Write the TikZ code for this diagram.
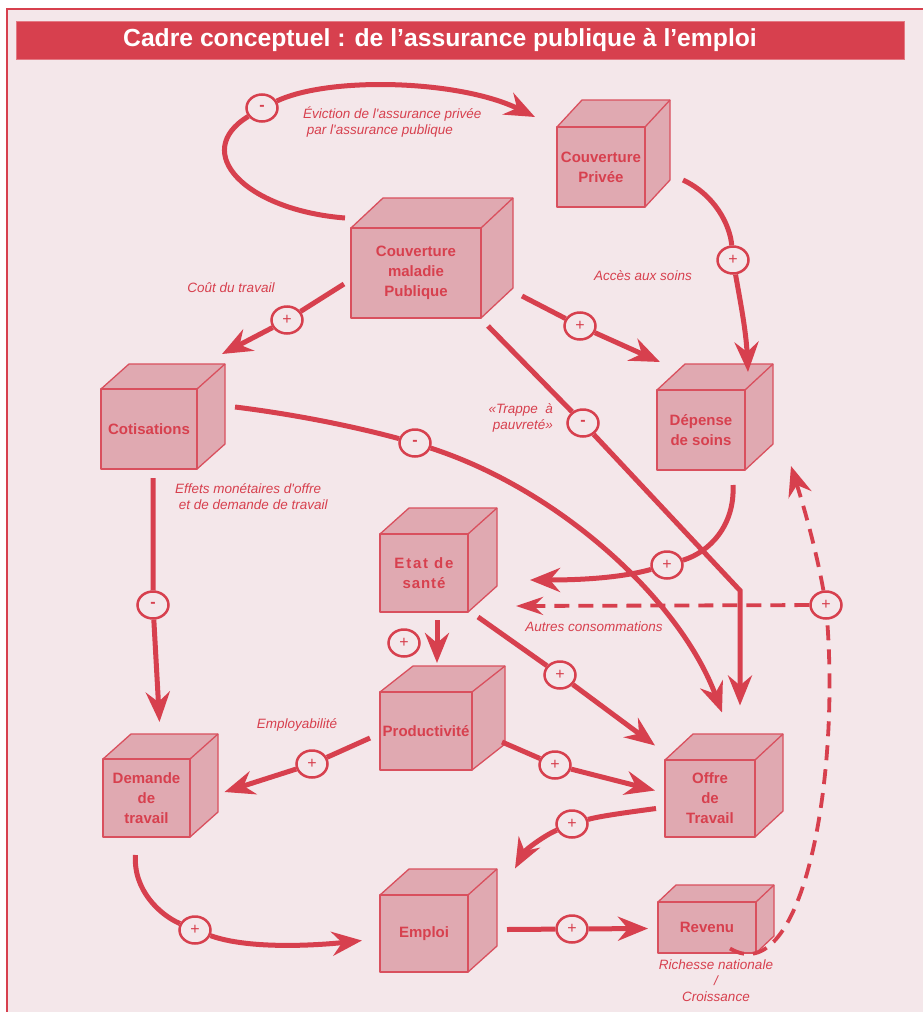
\documentclass[tikz,border=0pt]{standalone}
\usepackage{fontspec}
\setmainfont{Liberation Sans}
\usepackage{tikz}
\usetikzlibrary{arrows.meta, shapes.geometric}

\definecolor{rouge}{HTML}{D7404E}
\definecolor{fond}{HTML}{F4E7EA}
\definecolor{boite}{HTML}{E0A9B1}
\definecolor{arete}{HTML}{D9505E}

% front face (#2,#3)-(#4,#5), depth (#6,#7)
\newcommand{\drawcube}[8]{%
  \filldraw[face] (#2,#3) -- ++(#6,#7) -- ({#4+#6},{#3+#7}) -- ({#4+#6},{#5+#7}) -- (#4,#5) -- (#4,#3) -- cycle;
  \draw[face] (#4,#3) -- ++(#6,#7);
  \node[front, minimum width={(#4-#2)*1pt}, minimum height={(#5-#3)*1pt}] (#1) at ({(#2+#4)/2},{(#3+#5)/2}) {#8};
}

\begin{document}
\begin{tikzpicture}[x=1pt, y=-1pt]
      \tikzstyle{face}=[fill=boite, draw=arete, line width=1.3pt, line join=round]
      \tikzstyle{front}=[face, rectangle, inner sep=0pt, align=center, text=rouge, font=\fontsize{15}{20}\selectfont\bfseries]
      \tikzstyle{sign}=[ellipse, draw=rouge, fill=fond, line width=2.5pt, minimum width=31pt, minimum height=27pt, inner sep=0pt, text=rouge, font=\fontsize{16}{16}\selectfont]
      \tikzstyle{link}=[draw=rouge, line width=5pt, -{Stealth[length=30pt, width=24pt, inset=10pt]}]
      \tikzstyle{dashlink}=[link, line width=3.8pt, dash pattern=on 15pt off 9pt]
      \tikzstyle{annot}=[text=rouge, inner sep=0pt, font=\fontsize{13.5}{16}\selectfont\itshape]

      \useasboundingbox (0,0) rectangle (923,1012);
      \fill[white] (0,0) rectangle (923,1012);
      \draw[fill=fond, draw=rouge, line width=2pt] (7,9) rectangle (940,1030);
      \node[fill=rouge, draw=rouge!70, minimum width=888pt, minimum height=38pt, inner sep=0pt] (bandeau) at (460,40) {};
      \node[text=white, inner sep=0pt, font=\fontsize{24.7}{25}\selectfont\bfseries] (titre) at (440,40) {Cadre conceptuel : de l’assurance publique à l’emploi};

      % boites
      \drawcube{pub}{351}{228}{481}{318}{32}{-30}{Couverture\\maladie\\Publique}
      \drawcube{priv}{557}{127}{645}{207}{25}{-27}{Couverture\\Privée}
      \drawcube{cot}{101}{389}{197}{469}{28}{-25}{Cotisations}
      \drawcube{dep}{657}{390}{745}{470}{28}{-26}{Dépense\\de soins}
      \drawcube{sante}{380}{534}{468}{612}{29}{-26}{\addfontfeature{LetterSpace=12}Etat de\\\addfontfeature{LetterSpace=6}santé}
      \drawcube{prod}{380}{692}{472}{770}{33}{-26}{Productivité}
      \drawcube{dem}{103}{759}{190}{837}{28}{-25}{Demande\\de\\travail}
      \drawcube{offre}{665}{760}{755}{837}{28}{-26}{Offre\\de\\Travail}
      \drawcube{emploi}{380}{895}{468}{972}{29}{-26}{Emploi}
      \drawcube{rev}{658}{902}{756}{953}{18}{-17}{Revenu}

      % signes
      \node[sign] (s1) at (262,108) {\bfseries -};
      \node[sign] (s2) at (733,260) {+};
      \node[sign] (s3) at (287,320) {+};
      \node[sign] (s4) at (580,326) {+};
      \node[sign] (s5) at (583,423) {\bfseries -};
      \node[sign] (s6) at (415,443) {\bfseries -};
      \node[sign] (s7) at (153,605) {\bfseries -};
      \node[sign] (s8) at (667,565) {+};
      \node[sign] (s9) at (826,605) {+};
      \node[sign] (s10) at (404,643) {+};
      \node[sign] (s11) at (560,675) {+};
      \node[sign] (s12) at (312,764) {+};
      \node[sign] (s13) at (555,765) {+};
      \node[sign] (s14) at (572,824) {+};
      \node[sign] (s15) at (195,930) {+};
      \node[sign] (s16) at (572,929) {+};

      % liens
      \draw[link] ([shift={(-71,-55)}]pub.center) .. controls (245,210) and (190,152) .. (s1) .. controls (330,76) and (460,80) .. ([shift={(-66,-50)}]priv.center);
      \draw[link] ([shift={(82,13)}]priv.center) .. controls (715,195) and (730,225) .. (s2) .. controls (740,300) and (746,330) .. ([shift={(47,-58)}]dep.center);
      \draw[link] ([shift={(-72,11)}]pub.center) -- (s3) -- ([shift={(73,-75)}]cot.center);
      \draw[link] ([shift={(106,23)}]pub.center) -- (s4) -- ([shift={(-41,-68)}]dep.center);
      \draw[link] ([shift={(72,53)}]pub.center) -- (s5) -- ([shift={(30,-208)}]offre.center) -- ([shift={(30,-93)}]offre.center);
      \draw[link] ([shift={(86,-22)}]cot.center) .. controls (300,415) and (360,428) .. (s6) .. controls (560,490) and (680,600) .. ([shift={(12,-86)}]offre.center);
      \draw[link] ([shift={(4,49)}]cot.center) -- (s7) -- ([shift={(13,-76)}]dem.center);
      \draw[link] ([shift={(32,55)}]dep.center) .. controls (735,525) and (710,552) .. (s8) .. controls (620,578) and (580,580) .. ([shift={(106,7)}]sante.center);
      \draw[dashlink] ([shift={(23,21)}]rev.center) .. controls (800,990) and (840,790) .. (s9) .. controls (818,560) and (808,520) .. ([shift={(90,36)}]dep.center);
      \draw[dashlink, -{Stealth[length=27pt, width=18pt, inset=9pt]}] (s9) -- ([shift={(92,33)}]sante.center);
      \draw[link] ([shift={(13,47)}]sante.center) -- ([shift={(11,-68)}]prod.center);
      \draw[link] ([shift={(54,44)}]sante.center) -- (s11) -- ([shift={(-55,-53)}]offre.center);
      \draw[link] ([shift={(-56,7)}]prod.center) -- (s12) -- ([shift={(78,-6)}]dem.center);
      \draw[link] ([shift={(76,11)}]prod.center) -- (s13) -- ([shift={(-55,-8)}]offre.center);
      \draw[link] ([shift={(-54,10)}]offre.center) .. controls (630,812) and (600,816) .. (s14) .. controls (545,835) and (525,850) .. ([shift={(91,-65)}]emploi.center);
      \draw[link] ([shift={(-11,57)}]dem.center) .. controls (133,890) and (160,915) .. (s15) .. controls (250,950) and (320,945) .. ([shift={(-62,7)}]emploi.center);
      \draw[link] ([shift={(83,-4)}]emploi.center) -- (s16) -- ([shift={(-59,1)}]rev.center);

      % textes
      \node[annot, anchor=west, align=left] (l1) at (303,122) {Éviction de l\textquotesingle assurance privée\\\ par l\textquotesingle assurance publique};
      \node[annot] (l2) at (643,276) {Accès aux soins};
      \node[annot] (l3) at (231,288) {Coût du travail};
      \node[annot, anchor=east, align=right] (l4) at (553,418) {«Trappe \ à\\pauvreté»};
      \node[annot, anchor=west, align=left] (l5) at (175,497) {Effets monétaires d\textquotesingle offre\\\ et de demande de travail};
      \node[annot] (l6) at (594,627) {Autres consommations};
      \node[annot] (l7) at (297,725) {Employabilité};
      \node[annot, align=center] (l8) at (716,981) {Richesse nationale\\/\\Croissance};
  \end{tikzpicture}
\end{document}
